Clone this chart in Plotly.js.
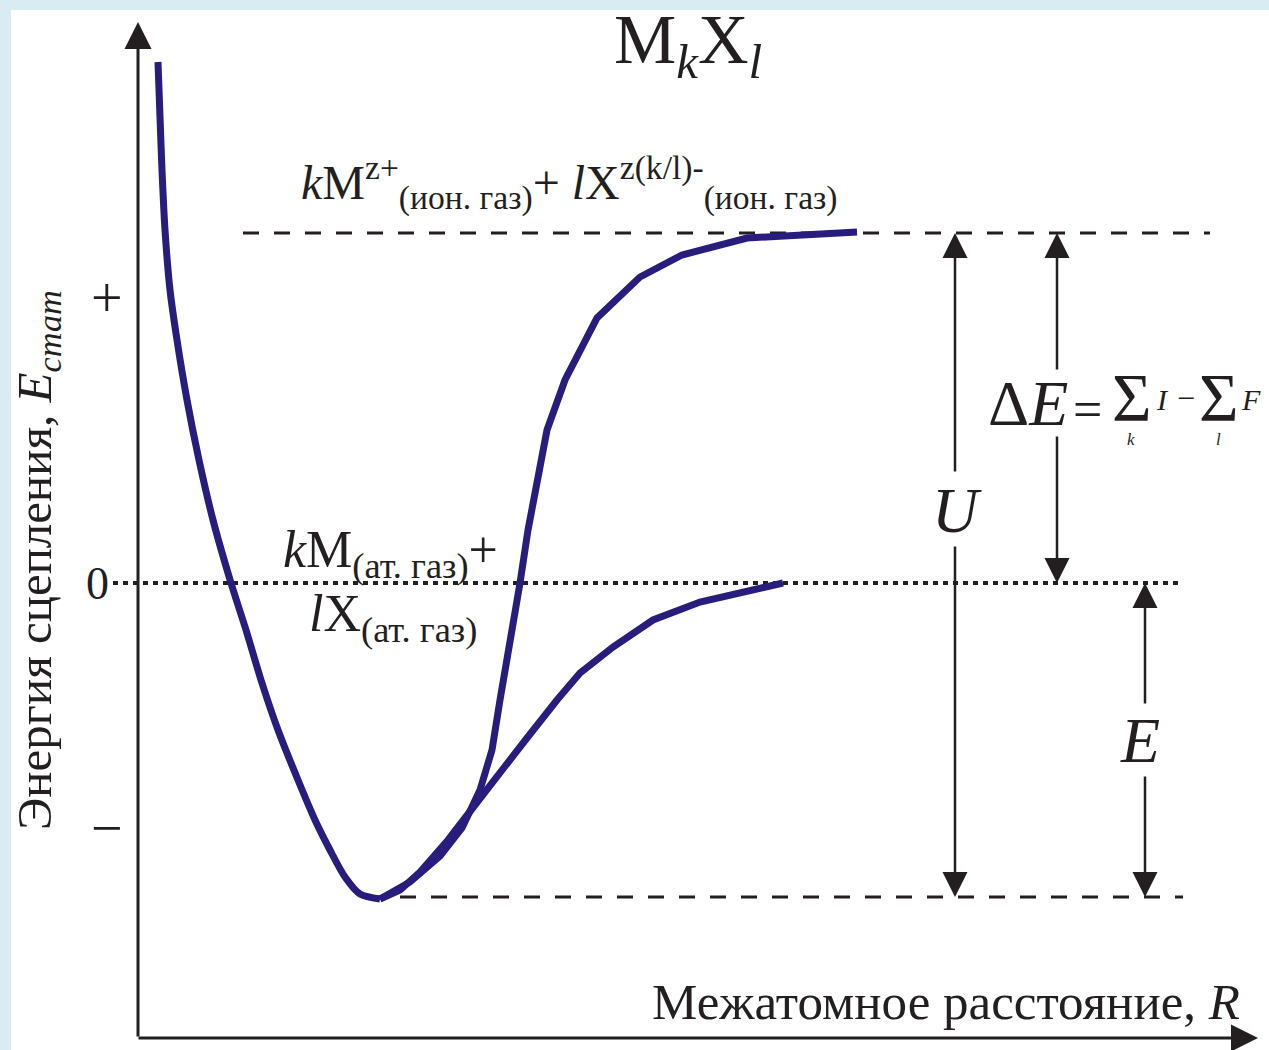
<!DOCTYPE html>
<html>
<head>
<meta charset="utf-8">
<script src="https://cdn.plot.ly/plotly-3.0.1.min.js"></script>
<style>
  html, body { margin: 0; padding: 0; background: #d9ecf4; }
  #chart { width: 1269px; height: 1050px; }
</style>
</head>
<body>
<div id="chart"></div>
<script>
// Interatomic distance R (arbitrary units) and bonding energy (arbitrary units)

// Common repulsive branch down to the potential minimum
const R_left = [0.20, 0.22, 0.24, 0.27, 0.32, 0.39, 0.49, 0.61, 0.75, 0.93, 1.08, 1.23, 1.40, 1.60, 1.77, 1.92, 2.07, 2.22, 2.42];
const E_left = [5.21, 4.66, 4.13, 3.53, 2.93, 2.43, 1.83, 1.23, 0.63, 0.00, -0.47, -0.97, -1.47, -1.97, -2.37, -2.67, -2.94, -3.11, -3.16];

// Branch approaching the ionic-gas limit
const R_ionic = [2.42, 2.72, 3.02, 3.24, 3.42, 3.54, 3.62, 3.74, 3.82, 3.90, 3.97, 4.09, 4.27, 4.59, 5.02, 5.44, 6.09, 7.19];
const E_ionic = [-3.16, -2.99, -2.73, -2.45, -2.07, -1.67, -1.17, -0.50, 0.00, 0.53, 0.93, 1.53, 2.03, 2.65, 3.06, 3.28, 3.45, 3.51];

// Branch approaching the atomic-gas limit
const R_atomic = [2.42, 2.62, 2.82, 3.10, 3.37, 3.62, 3.89, 4.19, 4.42, 4.75, 5.15, 5.62, 6.45];
const E_atomic = [-3.16, -3.07, -2.89, -2.57, -2.22, -1.89, -1.55, -1.17, -0.90, -0.64, -0.37, -0.19, 0.00];

// Energy levels
const E_ionGas = 3.50;   // kM(z+) + lX(z(k/l)-), ionic gas
const E_atomGas = 0.00;  // kM + lX, atomic gas
const E_bottom = -3.14;  // bottom of the well

// Sign labels on the energy axis
const tickVals = [2.85, 0, -2.45];
const tickText = ['+', '0', '\u2212'];

const curveColor = '#281c7d';
const ink = '#231f20';
const serif = '"Liberation Serif", "Times New Roman", serif';

const traces = [
  {
    x: R_left, y: E_left,
    type: 'scatter', mode: 'lines',
    line: { color: curveColor, width: 7, shape: 'spline', smoothing: 0.8 },
    hoverinfo: 'skip'
  },
  {
    x: R_ionic, y: E_ionic,
    type: 'scatter', mode: 'lines',
    line: { color: curveColor, width: 7 },
    hoverinfo: 'skip'
  },
  {
    x: R_atomic, y: E_atomic,
    type: 'scatter', mode: 'lines',
    line: { color: curveColor, width: 7 },
    hoverinfo: 'skip'
  }
];

const shapes = [
  { type: 'line', xref: 'x', yref: 'y', x0: 1.05, x1: 10.72, y0: E_ionGas, y1: E_ionGas,
    line: { color: ink, width: 3, dash: '16px,15px' }, layer: 'below' },
  { type: 'line', xref: 'x', yref: 'y', x0: -0.25, x1: 10.42, y0: E_atomGas, y1: E_atomGas,
    line: { color: ink, width: 4, dash: '5px,5px' }, layer: 'below' },
  { type: 'line', xref: 'x', yref: 'y', x0: 2.62, x1: 10.45, y0: E_bottom, y1: E_bottom,
    line: { color: ink, width: 3, dash: '16px,15px' }, layer: 'below' }
];

// Arrow helper: head at (xHead, yHead), tail at (x, yTail)
function arrow(x, yTail, xHead, yHead, width, size) {
  return {
    x: xHead, y: yHead, ax: x, ay: yTail,
    xref: 'x', yref: 'y', axref: 'x', ayref: 'y',
    text: '', showarrow: true, arrowhead: 2,
    arrowwidth: width, arrowsize: size, arrowcolor: ink, standoff: 0
  };
}

function label(x, y, text, size, opts) {
  return Object.assign({
    x: x, y: y, xref: 'x', yref: 'y', text: text, showarrow: false,
    font: { family: serif, size: size, color: ink },
    xanchor: 'center', yanchor: 'middle', borderpad: 0
  }, opts || {});
}

const annotations = [
  // coordinate axes
  arrow(0, -4.55, 0, 5.61, 3, 1.8),
  arrow(-0.01, -4.55, 11.20, -4.55, 3, 1.8),
  // U
  arrow(8.17, 1.10, 8.17, E_ionGas, 2.5, 2),
  arrow(8.17, 0.38, 8.17, E_bottom, 2.5, 2),
  // dE
  arrow(9.19, 2.12, 9.19, E_ionGas, 2.5, 2),
  arrow(9.19, 1.48, 9.19, E_atomGas, 2.5, 2),
  // E
  arrow(10.07, -1.22, 10.07, E_atomGas, 2.5, 2),
  arrow(10.07, -1.92, 10.07, E_bottom, 2.5, 2),

  // title
  label(5.50, 5.38, 'M<sub><i>k</i></sub>X<sub><i>l</i></sub>', 70),

  // level labels
  label(1.62, 4.00, '<i>k</i>M<sup>z+</sup><sub>(ион. газ)</sub>+ <i>l</i>X<sup>z(k/l)-</sup><sub>(ион. газ)</sub>', 48, { xanchor: 'left' }),
  label(1.44, 0.30, '<i>k</i>M<sub>(ат. газ)</sub>+', 52, { xanchor: 'left' }),
  label(1.70, -0.34, '<i>l</i>X<sub>(ат. газ)</sub>', 52, { xanchor: 'left' }),

  // U, dE, E labels
  label(8.19, 0.73, '<i>U</i>', 64),
  label(8.90, 1.80, '\u0394<i>E</i>', 64),
  label(9.49, 1.74, '=', 52),
  label(9.94, 1.86, '\u03A3', 68),
  label(9.93, 1.44, '<i>k</i>', 17),
  label(10.24, 1.84, '<i>I</i>', 30),
  label(10.48, 1.85, '\u2212', 32),
  label(10.81, 1.86, '\u03A3', 68),
  label(10.80, 1.44, '<i>l</i>', 17),
  label(11.13, 1.84, '<i>F</i>', 30),
  label(10.02, -1.57, '<i>E</i>', 64),

  // axis titles
  label(-1.01, 0.23, 'Энергия сцепления, <i>E</i><sub><i>стат</i></sub>', 49, { textangle: -90 }),
  label(11.03, -4.19, 'Межатомное расстояние, <i>R</i>', 51, { xanchor: 'right' })
];

// sign labels of the energy axis
tickVals.forEach((v, i) => {
  annotations.push(label(i === 1 ? -0.41 : -0.31, v, tickText[i], i === 1 ? 46 : 56));
});

const layout = {
  width: 1269, height: 1050,
  margin: { l: 11, r: 0, t: 10, b: 0 },
  paper_bgcolor: '#d9ecf4',
  plot_bgcolor: '#ffffff',
  showlegend: false,
  xaxis: { range: [-1.27, 11.31], visible: false, fixedrange: true },
  yaxis: { range: [-4.67, 5.73], visible: false, fixedrange: true },
  shapes: shapes,
  annotations: annotations,
  font: { family: serif, color: ink }
};

Plotly.newPlot('chart', traces, layout, { staticPlot: true, displayModeBar: false });
</script>
</body>
</html>
